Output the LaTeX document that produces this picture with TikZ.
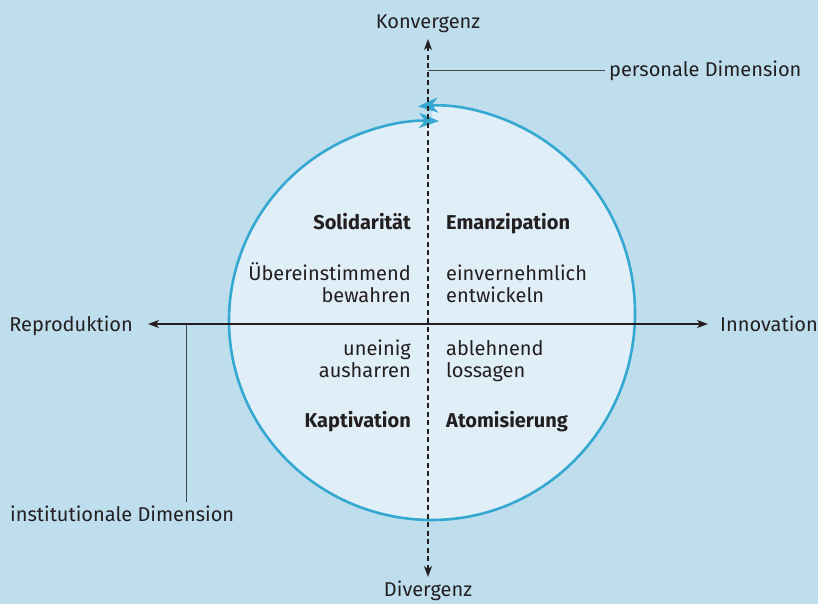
\documentclass[tikz,border=0pt]{standalone}
\usepackage{fontspec}
\setmainfont{Fira Sans}
\usetikzlibrary{arrows.meta}
\definecolor{bgc}{RGB}{190,222,238}
\definecolor{cfill}{RGB}{223,238,247}
\definecolor{cblue}{RGB}{52,168,208}
\definecolor{txt}{RGB}{35,31,32}
\definecolor{lead}{RGB}{70,70,72}
\tikzset{
  lbl/.style={inner sep=0pt, text=txt, font=\fontsize{20}{22}\selectfont},
  quad/.style={inner sep=0pt, text=txt, font=\fontsize{20}{22}\selectfont},
  qhead/.style={inner sep=0pt, text=txt, font=\fontsize{20}{22}\selectfont\bfseries},
  axisline/.style={draw=txt, line width=1.4pt, {Stealth[length=11pt,width=8pt,inset=3pt]}-{Stealth[length=11pt,width=8pt,inset=3pt]}},
  dashaxis/.style={axisline, dash pattern=on 5pt off 3.5pt},
  leader/.style={draw=lead, line width=1pt},
  ring/.style={draw=cblue, line width=2.6pt, -{Stealth[length=20pt,width=15pt,inset=6pt]}},
}
\begin{document}
\begin{tikzpicture}[x=1pt,y=1pt]
\fill[bgc] (0,0) rectangle (818,604);
\useasboundingbox (0,0) rectangle (818,604);
% circle fill
\fill[cfill] (432,84) arc[start angle=-90,end angle=90,x radius=203,y radius=207]
  -- (432,483) arc[start angle=90,end angle=270,x radius=203,y radius=199.5] -- cycle;
% ring arcs
\draw[ring] (432,84) arc[start angle=-90,end angle=94,x radius=203,y radius=207];
\draw[ring] (432,84) arc[start angle=-90,end angle=-272,x radius=203,y radius=199.5];
% labels
\node[lbl, anchor=base] (konv) at (428,575) {Konvergenz};
\node[lbl, anchor=base] (div) at (428,7) {Divergenz};
\node[lbl, anchor=base east] (repro) at (133,272) {Reproduktion};
\node[lbl, anchor=base west] (innov) at (720,272) {Innovation};
\node[lbl, anchor=base west] (pers) at (609,527) {personale Dimension};
\node[lbl, anchor=base west] (inst) at (10,82) {institutionale Dimension};
% quadrant texts
\node[qhead, anchor=base east] (sol) at (411,374) {Solidarität};
\node[qhead, anchor=base west] (ema) at (446,374) {Emanzipation};
\node[qhead, anchor=base east] (kap) at (411,176) {Kaptivation};
\node[qhead, anchor=base west] (ato) at (446,176) {Atomisierung};
\node[quad, anchor=base east, align=right] (ueb) at (411,301) {Übereinstimmend\\bewahren};
\node[quad, anchor=base west, align=left] (ein) at (446,301) {einvernehmlich\\entwickeln};
\node[quad, anchor=base east, align=right] (une) at (411,226) {uneinig\\ausharren};
\node[quad, anchor=base west, align=left] (abl) at (446,226) {ablehnend\\lossagen};
% coordinates
\coordinate (vtop) at (428,565);
\coordinate (vbot) at (428,27);
\coordinate (hl) at (148,280);
\coordinate (hr) at (708,280);
\coordinate (pj) at (428,533);
\coordinate (pe) at (605,533);
\coordinate (ij) at (186,280);
\coordinate (ie) at (186,102);
% leaders
\draw[leader] (pj) -- (pe);
\draw[leader] (ij) -- (ie);
% axes
\draw[axisline] (hl) -- (hr);
\draw[dashaxis] (vbot) -- (vtop);
\end{tikzpicture}
\end{document}
